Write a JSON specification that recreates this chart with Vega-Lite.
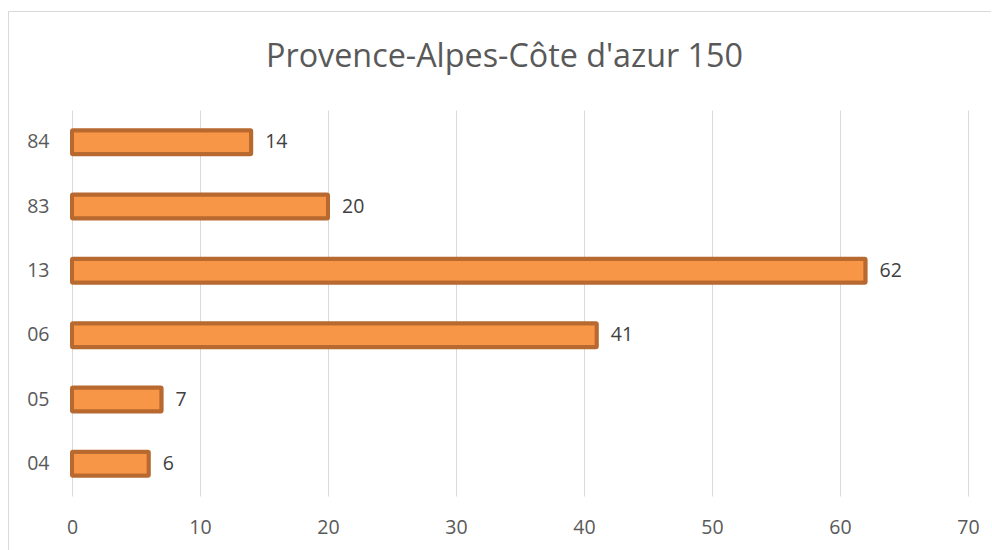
{
  "$schema": "https://vega.github.io/schema/vega-lite/v6.json",
  "autosize": {"type": "none"},
  "width": 983,
  "height": 584,
  "padding": {"left": 8, "top": 11, "right": 0, "bottom": 0},
  "background": "white",
  "title": {
    "text": "Provence-Alpes-Côte d'azur 150",
    "font": "Open Sans",
    "fontSize": 32.3,
    "fontWeight": "normal",
    "color": "#595959",
    "anchor": "middle",
    "frame": "group",
    "baseline": "alphabetic",
    "offset": 0,
    "dy": 88,
    "dx": 5
  },
  "config": {
    "view": {"stroke": "#D9D9D9", "strokeWidth": 1},
    "axis": {
      "labelFont": "Open Sans",
      "labelFontSize": 19.5,
      "labelColor": "#595959",
      "title": null,
      "domain": false,
      "ticks": false
    }
  },
  "data": {
    "values": [
      {"dept": "84", "count": 14},
      {"dept": "83", "count": 20},
      {"dept": "13", "count": 62},
      {"dept": "06", "count": 41},
      {"dept": "05", "count": 7},
      {"dept": "04", "count": 6}
    ]
  },
  "encoding": {
    "y": {
      "field": "dept",
      "type": "nominal",
      "scale": {
        "domain": ["84", "83", "13", "06", "05", "04"],
        "range": [99, 485],
        "paddingInner": 0.627,
        "paddingOuter": 0.3135
      },
      "axis": {"orient": "left", "labelPadding": -41, "grid": false}
    },
    "x": {
      "field": "count",
      "type": "quantitative",
      "scale": {"domain": [0, 70], "nice": false, "range": [64, 960]},
      "axis": {
        "orient": "bottom",
        "values": [0, 10, 20, 30, 40, 50, 60, 70],
        "labelPadding": -77,
        "labelFlush": false,
        "labelOverlap": false,
        "grid": true,
        "gridColor": "#D9D9D9",
        "gridWidth": 1
      }
    }
  },
  "layer": [
    {
      "mark": {"type": "bar", "fill": "#F79646", "stroke": "#B7692F", "strokeWidth": 4, "cornerRadius": 1}
    },
    {
      "mark": {"type": "text", "align": "left", "baseline": "middle", "dx": 14, "font": "Open Sans", "fontSize": 19.5, "color": "#404040"},
      "encoding": {"text": {"field": "count", "type": "quantitative"}}
    }
  ]
}
